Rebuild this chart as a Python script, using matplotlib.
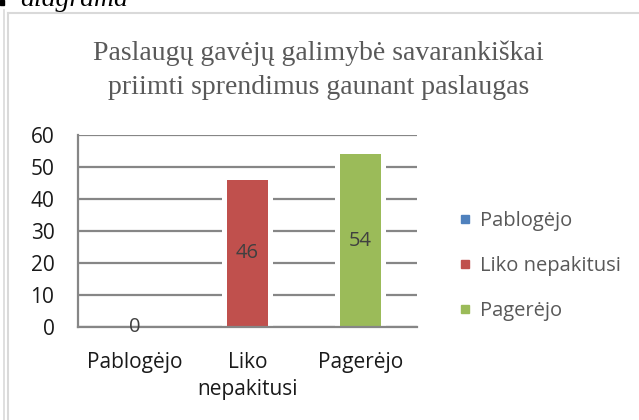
import matplotlib.pyplot as plt
from matplotlib.lines import Line2D
from matplotlib.patches import Rectangle

# data
categories = ['Pablogėjo', 'Liko\nnepakitusi', 'Pagerėjo']
series_names = ['Pablogėjo', 'Liko nepakitusi', 'Pagerėjo']
values = [0, 46, 54]
colors = ['#4f81bd', '#c0504d', '#9bbb59']
yticks = [0, 10, 20, 30, 40, 50, 60]
title = 'Paslaugų gavėjų galimybė savarankiškai\npriimti sprendimus gaunant paslaugas'

plt.rcParams['font.family'] = ['Open Sans', 'DejaVu Sans']

fig = plt.figure(figsize=(6.39, 4.20), dpi=100)

# page decoration: frame lines and the cut-off caption above the chart
W, H = 639, 420
fig.add_artist(Line2D([4 / W, 4 / W], [0, 1 - 10 / H], color='#d9d9d9', lw=1.2))
fig.add_artist(Line2D([8 / W, 8 / W], [0, 1 - 13 / H], color='#d9d9d9', lw=1.5))
fig.add_artist(Line2D([8 / W, 1], [1 - 13 / H, 1 - 13 / H], color='#d9d9d9', lw=1.5))
fig.add_artist(Rectangle((0, 1 - 5 / H), 4 / W, 5 / H, color='black'))
fig.text(20 / W, 1 - 6 / H, 'diagrama', family='Liberation Serif', style='italic',
         fontsize=20, va='baseline', ha='left', color='black')

fig.text(0.498, 1 - 70 / H, title, family='Liberation Serif', fontsize=20,
         color='#595959', ha='center', va='center', linespacing=1.5)

ax = fig.add_axes([78 / W, 1 - 327 / H, (417 - 78) / W, (327 - 135) / H])
x = range(len(categories))

ax.bar(x, [v + 1.5 if v else 0 for v in values], width=0.45, color='white', zorder=2)
bars = ax.bar(x, values, width=0.355, color=colors, zorder=3)
labels = ax.bar_label(bars, label_type='center', fontsize=14.5, color='#404040')
for t in labels:
    t.set_zorder(5)

ax.set_xlim(-0.5, 2.5)
ax.set_ylim(0, 60)
ax.set_yticks(yticks)
ax.set_xticks(list(x))
ax.set_xticklabels(categories, fontsize=15, color='#1a1a1a', linespacing=1.4)
ax.tick_params(axis='y', length=0, pad=17, labelsize=15, labelcolor='#1a1a1a')
ax.tick_params(axis='x', length=0, pad=18)
ax.yaxis.grid(True, color='#868686', lw=1.6, zorder=1)
ax.set_axisbelow(True)
for s in ['top', 'right']:
    ax.spines[s].set_visible(False)
for s in ['left', 'bottom']:
    ax.spines[s].set_color('#868686')
    ax.spines[s].set_linewidth(1.6)
    ax.spines[s].set_zorder(4)

handles = [Line2D([], [], marker='s', ls='none', markersize=6, color=c) for c in colors]
fig.legend(handles, series_names, loc='center left', bbox_to_anchor=(459 / W, 1 - 266 / H),
           frameon=False, fontsize=14.5, labelcolor='#595959', handlelength=0.6,
           handletextpad=0.45, labelspacing=1.25, borderpad=0, borderaxespad=0)

fig.savefig('out.png', dpi=100)
